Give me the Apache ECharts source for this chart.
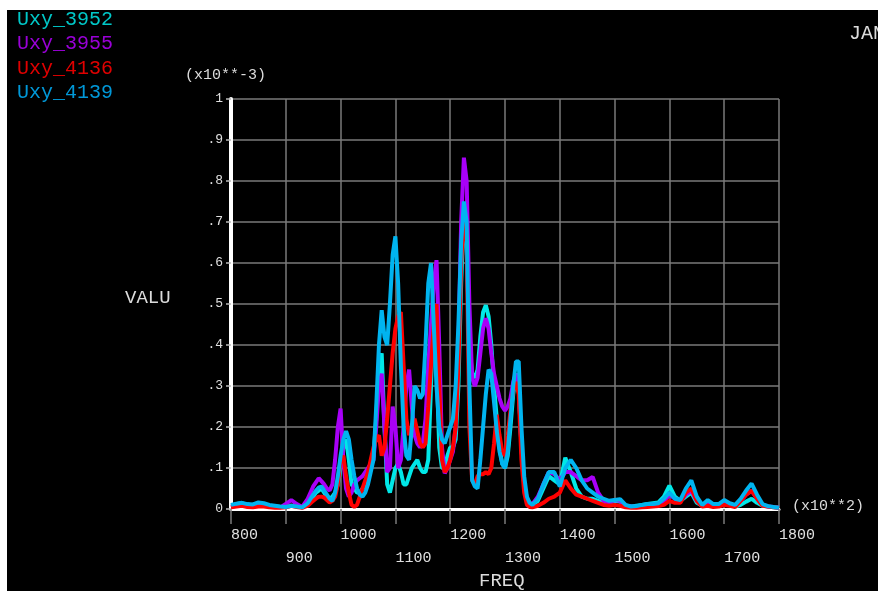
<!DOCTYPE html>
<html>
<head>
<meta charset="utf-8">
<script src="https://cdn.jsdelivr.net/npm/echarts@6/dist/echarts.min.js"></script>
<style>
html,body{margin:0;padding:0;background:#fff;}
#chart{width:878px;height:591px;}
</style>
</head>
<body>
<div id="chart"></div>
<script>
// Frequencies (x10**2 axis units)
const freq = [
  800,810,820,830,840,850,860,870,880,890,900,910,920,930,940,
  950,955,960,965,970,975,980,985,990,995,1000,1005,1010,1015,1020,1025,1030,1035,1040,1045,
  1050,1055,1060,1065,1070,1075,1080,1085,1090,1095,1100,1105,1110,1115,1120,1125,1130,1135,1140,1145,
  1150,1155,1160,1165,1170,1175,1180,1185,1190,1195,1200,1205,1210,1215,1220,1225,1230,1235,1240,1245,
  1250,1255,1260,1265,1270,1275,1280,1285,1290,1295,1300,1305,1310,1315,1320,1325,1330,1335,1340,1345,1350,
  1360,1370,1380,1390,1400,1410,1420,1430,1440,1450,1460,1470,1480,1490,1500,1510,1520,1530,1540,1550,
  1560,1570,1580,1590,1600,1610,1620,1630,1640,1650,1660,1670,1680,1690,1700,1710,1720,1730,1740,1750,
  1760,1770,1780,1790,1800
];

// Values (x10**-3)
const uxy3952 = [
  .008,.012,.014,.010,.010,.014,.012,.008,.006,.005,.005,.008,.006,.004,.012,
  .030,.040,.045,.050,.040,.030,.025,.030,.040,.060,.100,.150,.170,.120,.060,.050,.040,.040,.050,.060,
  .080,.100,.130,.220,.350,.380,.200,.060,.040,.070,.100,.110,.090,.060,.060,.080,.100,.110,.120,.100,
  .090,.090,.120,.300,.500,.350,.150,.100,.100,.130,.150,.150,.170,.300,.550,.720,.650,.400,.330,.320,
  .340,.420,.480,.497,.470,.400,.300,.220,.150,.110,.100,.130,.200,.280,.330,.300,.150,.060,.020,.010,.010,
  .020,.050,.080,.070,.060,.125,.090,.050,.030,.025,.025,.020,.015,.015,.020,.018,.008,.006,.008,.010,
  .012,.014,.016,.030,.057,.030,.020,.030,.040,.015,.008,.015,.010,.008,.015,.010,.006,.010,.018,.025,
  .015,.008,.006,.004,.003
];
const uxy3955 = [
  .005,.008,.010,.008,.006,.008,.010,.006,.005,.004,.012,.022,.012,.005,.025,
  .055,.065,.075,.068,.060,.050,.045,.060,.120,.200,.245,.120,.050,.030,.040,.060,.070,.075,.080,.090,
  .100,.110,.120,.200,.300,.330,.200,.090,.100,.250,.200,.100,.120,.200,.300,.340,.250,.180,.160,.150,
  .160,.220,.350,.450,.550,.607,.400,.150,.087,.100,.120,.140,.200,.400,.700,.857,.800,.500,.320,.300,
  .320,.380,.440,.465,.440,.380,.330,.300,.270,.250,.240,.250,.270,.310,.330,.300,.150,.060,.025,.015,.012,
  .030,.060,.090,.085,.070,.090,.090,.080,.070,.070,.078,.040,.020,.015,.022,.020,.008,.006,.005,.006,
  .008,.010,.010,.018,.035,.025,.020,.035,.045,.020,.008,.012,.008,.010,.015,.010,.008,.020,.035,.045,
  .025,.010,.006,.005,.003
];
const uxy4136 = [
  .004,.006,.008,.005,.004,.006,.006,.004,.003,.003,.004,.008,.005,.003,.008,
  .020,.025,.030,.030,.028,.022,.016,.020,.030,.060,.120,.130,.080,.040,.010,.005,.010,.030,.050,.070,
  .090,.120,.150,.170,.180,.130,.150,.220,.300,.380,.440,.470,.480,.350,.220,.180,.200,.220,.190,.160,
  .150,.160,.250,.350,.450,.500,.300,.120,.090,.100,.120,.150,.200,.350,.600,.720,.650,.200,.070,.060,
  .080,.085,.085,.090,.085,.100,.160,.230,.180,.140,.130,.180,.240,.290,.310,.280,.120,.040,.010,.005,.004,
  .008,.015,.025,.030,.040,.070,.050,.035,.030,.025,.020,.015,.010,.008,.010,.008,.004,.003,.003,.004,
  .005,.006,.007,.010,.020,.015,.015,.040,.050,.020,.006,.008,.005,.006,.010,.008,.005,.020,.035,.045,
  .025,.008,.006,.004,.003
];
const uxy4139 = [
  .010,.013,.015,.012,.011,.016,.014,.010,.008,.006,.005,.008,.006,.004,.014,
  .035,.045,.052,.055,.045,.035,.025,.020,.040,.080,.130,.170,.190,.170,.120,.080,.050,.035,.030,.040,
  .060,.090,.120,.250,.400,.485,.420,.400,.500,.620,.665,.550,.350,.200,.130,.120,.200,.300,.290,.270,
  .280,.400,.550,.600,.450,.300,.200,.170,.160,.180,.200,.220,.300,.450,.650,.750,.700,.300,.070,.055,
  .050,.120,.200,.280,.340,.330,.260,.190,.140,.110,.100,.140,.220,.300,.360,.360,.200,.080,.030,.015,.010,
  .025,.060,.090,.090,.055,.100,.120,.100,.070,.050,.040,.030,.025,.020,.022,.024,.010,.006,.007,.010,
  .012,.012,.014,.025,.040,.025,.022,.050,.070,.030,.010,.022,.012,.012,.022,.014,.010,.025,.045,.062,
  .035,.012,.007,.005,.003
];

const seriesNames = ['Uxy_3952','Uxy_3955','Uxy_4136','Uxy_4139'];
const seriesValues = [uxy3952, uxy3955, uxy4136, uxy4139];
const seriesColors = ['#00e8e8','#a800f8','#ff0000','#00b4f0'];
const legendColors = ['#00c8c8','#9a00d8','#e00000','#0098d8'];

const FONT = "'Liberation Mono', 'DejaVu Sans Mono', monospace";
const chart = echarts.init(document.getElementById('chart'), null, {renderer:'canvas'});

const graphics = [
  {type:'rect', shape:{x:0,y:0,width:878,height:10}, style:{fill:'#fff'}, z:100},
  {type:'rect', shape:{x:0,y:0,width:7,height:591}, style:{fill:'#fff'}, z:100},
  {type:'text', x:185, y:75, style:{text:'(x10**-3)', fill:'#dcdcdc', fontSize:15, fontFamily:FONT, align:'left', verticalAlign:'middle'}},
  {type:'text', x:849, y:34, style:{text:'JAN', fill:'#dcdcdc', fontSize:20, fontFamily:FONT, align:'left', verticalAlign:'middle'}},
  {type:'text', x:125, y:298, style:{text:'VALU', fill:'#dcdcdc', fontSize:19, fontFamily:FONT, align:'left', verticalAlign:'middle'}},
  {type:'text', x:792, y:506, style:{text:'(x10**2)', fill:'#dcdcdc', fontSize:15, fontFamily:FONT, align:'left', verticalAlign:'middle'}},
  {type:'text', x:479, y:581, style:{text:'FREQ', fill:'#dcdcdc', fontSize:19, fontFamily:FONT, align:'left', verticalAlign:'middle'}}
];
seriesNames.forEach((n,i)=>{
  graphics.push({type:'text', x:17, y:20+i*24.2, style:{text:n, fill:legendColors[i], fontSize:20, fontFamily:FONT, align:'left', verticalAlign:'middle'}});
});

const option = {
  backgroundColor:'#000',
  animation:false,
  grid:{left:231, top:99, width:548, height:410, containLabel:false},
  xAxis:{
    type:'value', min:800, max:1800, interval:100,
    axisLine:{show:true, onZero:false, lineStyle:{color:'#ffffff', width:3}},
    axisTick:{show:true, length:15, lineStyle:{color:'#7a7a7a', width:1.5}},
    splitLine:{show:true, lineStyle:{color:'#7a7a7a', width:1.5}},
    axisLabel:{
      show:true, margin:15, color:'#e0e0e0', fontSize:15, fontFamily:FONT,
      align:'left', lineHeight:23, hideOverlap:false, showMinLabel:true, showMaxLabel:true,
      formatter:function(v){ return (Math.round(v/100)%2===1) ? '\n'+v : String(v); }
    }
  },
  yAxis:{
    type:'value', min:0, max:1, interval:0.1,
    axisLine:{show:true, onZero:false, lineStyle:{color:'#ffffff', width:4}},
    axisTick:{show:true, length:5, lineStyle:{color:'#bbbbbb', width:1.5}},
    splitLine:{show:true, lineStyle:{color:'#7a7a7a', width:1.5}},
    axisLabel:{
      show:true, margin:8, color:'#e0e0e0', fontSize:13, fontFamily:FONT,
      formatter:function(v){ const t=Math.round(v*10); if(t===0) return '0'; if(t===10) return '1'; return '.'+t; }
    }
  },
  graphic:graphics,
  series: seriesNames.map((n,i)=>({
    name:n, type:'line', showSymbol:false, symbol:'none', smooth:false,
    data: freq.map((f,k)=>[f, seriesValues[i][k]]),
    lineStyle:{color:seriesColors[i], width:4},
    itemStyle:{color:seriesColors[i]},
    z:2+i
  }))
};
chart.setOption(option);
</script>
</body>
</html>
